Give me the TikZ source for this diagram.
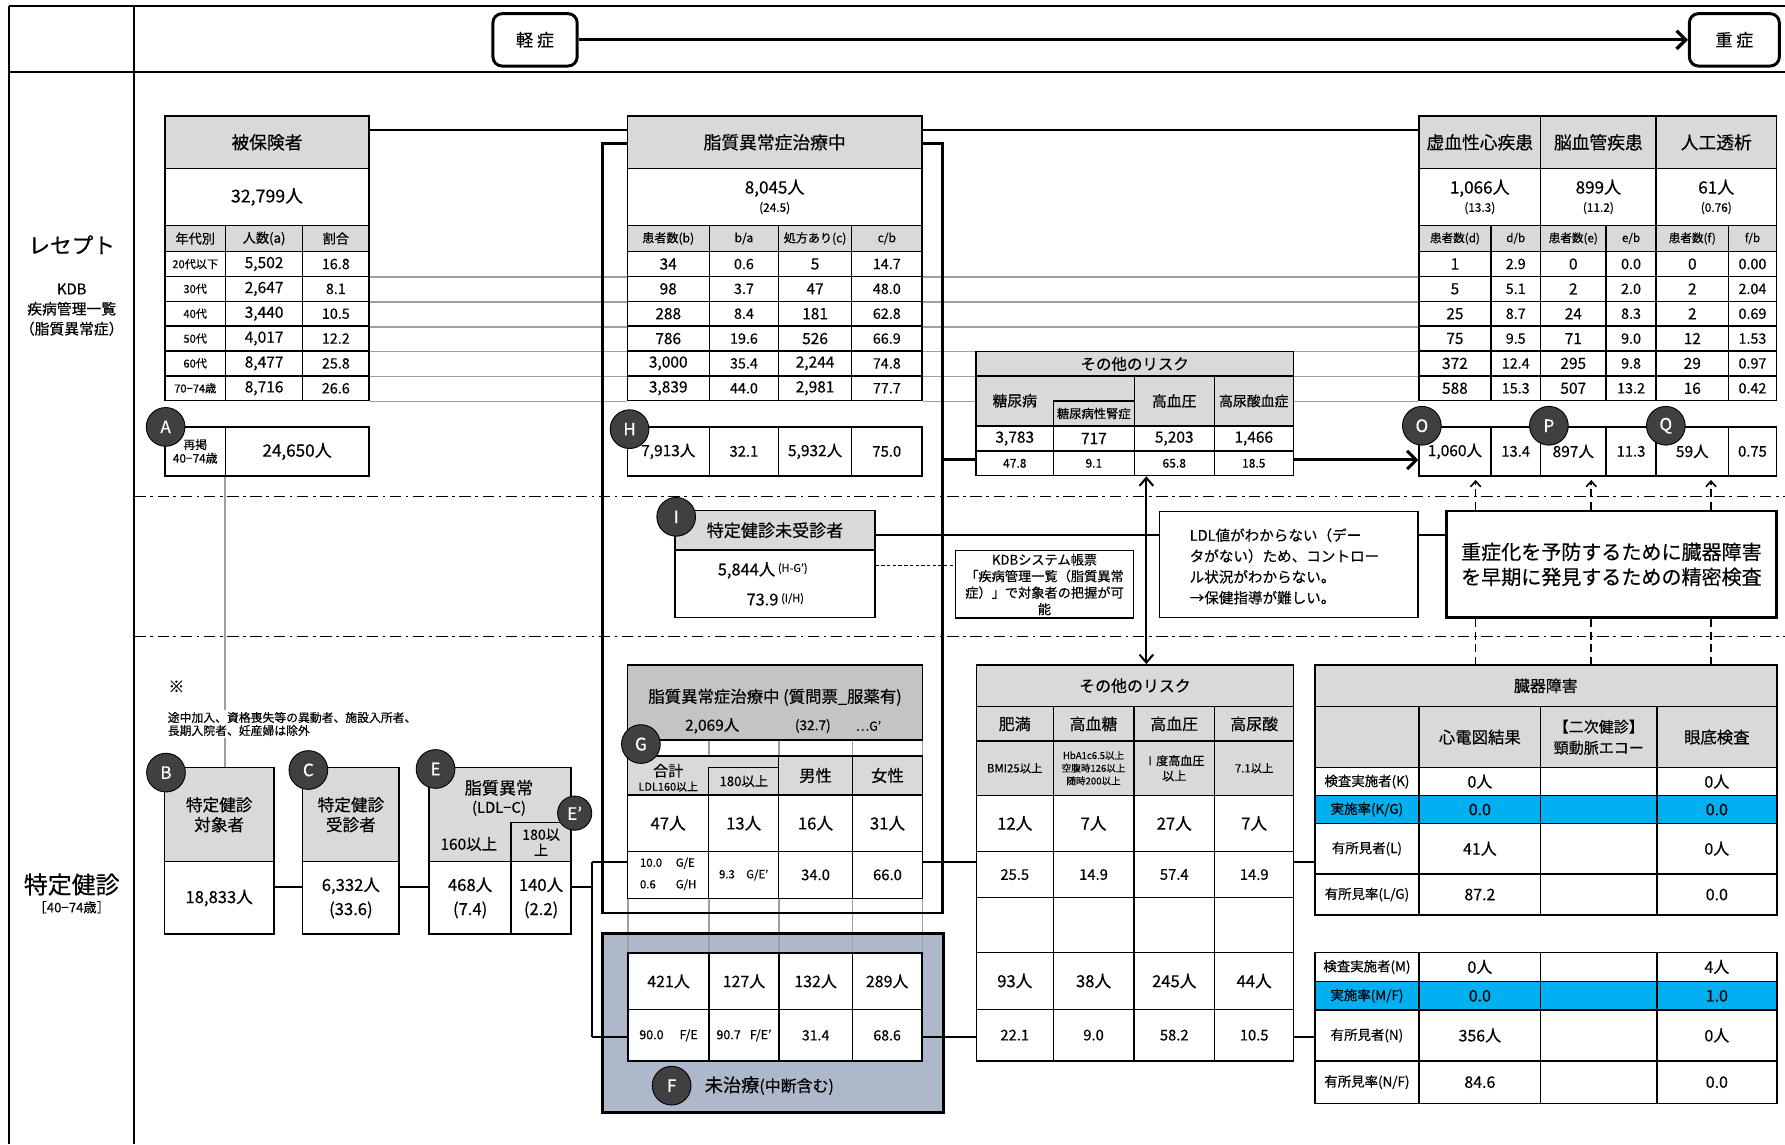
\documentclass[tikz,border=0pt]{standalone}
\usepackage{fontspec}
\setmainfont{Noto Sans CJK JP}[FakeBold=0.35]
\usetikzlibrary{arrows.meta}
\definecolor{hd}{HTML}{D9D9D9}
\definecolor{hdd}{HTML}{C4C4C4}
\definecolor{labc}{HTML}{404040}
\definecolor{fblue}{HTML}{ADB9CA}
\definecolor{kblue}{HTML}{00B0F0}
\definecolor{rowl}{HTML}{A0A0A0}
\newcounter{cc}
\newcommand\fz[2][1.2]{\fontsize{#2pt}{\fpeval{#1*#2}pt}\selectfont}
\NewDocumentCommand\cl{O{}mmmmm}{\stepcounter{cc}%
  \node[cell,minimum width={(#4-#2)*0.5pt},minimum height={(#5-#3)*0.5pt},#1] (c\arabic{cc}) at ({(#2+#4)/2},{(#3+#5)/2}) {#6};}
\pgfdeclarelayer{bg}
\pgfsetlayers{bg,main}
\begin{document}
\begin{tikzpicture}[x=0.5pt,y=-0.5pt,font=\fz{7},
 cell/.style={draw=black,fill=white,line width=0.6pt,inner sep=0.5pt,align=center},
 lab/.style={circle,fill=labc,draw=black,line width=0.4pt,text=white,minimum size=17pt,inner sep=0pt,font=\fz{7.5}},
 sev/.style={draw,rounded corners=4pt,line width=1.3pt,minimum width=37pt,minimum height=23pt,font=\fz{7.5}},
 conn/.style={line width=0.7pt},
 thk/.style={line width=1.3pt},
 dl/.style={line width=0.7pt,dash pattern=on 3.5pt off 2pt}]
\begin{pgfonlayer}{bg}
\fill[white] (0,0) rectangle (1568,1005);
\end{pgfonlayer}
\useasboundingbox (0,0) rectangle (1568,1005);
% frame
\draw[line width=0.8pt] (8,5) -- (1568,5);
\draw[line width=1pt] (8,63) -- (1568,63);
\draw[line width=0.8pt] (8,5) -- (8,1005);
\draw[line width=0.8pt] (118,5) -- (118,1005);
\foreach \yy in {436,559} \draw[line width=0.5pt,dash pattern=on 5pt off 2pt on 1.2pt off 2pt] (118,\yy) -- (1568,\yy);
% header
\node[sev] (mild) at (470,35) {軽 症};
\node[sev,minimum width=39.5pt] (severe) at (1523.5,35) {重 症};
\draw[line width=1.4pt,-{Straight Barb[length=4pt,width=8pt]}] (mild) -- (severe);
% left labels
\node[font=\fz{9.5}] (lrec) at (63,215) {レセプト};
\node[font={\fz[1.35]{6.5}},align=center] (lkdb) at (63,272) {KDB\\疾病管理一覧\\（脂質異常症）};
\node[font=\fz{10.5}] (ltok) at (63,777) {特定健診};
\node[font=\fz{5.8}] (lage) at (63,797) {［40−74歳］};
% ===== table 1
\cl[fill=hd,font=\fz{7.8},alias=hihoT]{145}{102}{324}{148}{被保険者}
\cl[font=\fz{7.8}]{145}{148}{324}{198}{32,799人}
\cl[fill=hd,font=\fz{5.8}]{145}{198}{198}{221}{年代別}
\cl[fill=hd,font=\fz{5.8}]{198}{198}{266}{221}{人数(a)}
\cl[fill=hd,font=\fz{5.8}]{266}{198}{324}{221}{割合}
\foreach \va/\vb/\vc [count=\i] in {20代以下/5{,}502/16.8, 30代/2{,}647/8.1, 40代/3{,}440/10.5, 50代/4{,}017/12.2, 60代/8{,}477/25.8, 70−74歳/8{,}716/26.6}{
 \pgfmathsetmacro\ya{221+(\i-1)*21.833}\pgfmathsetmacro\yb{\ya+21.833}
 \cl[font=\fz{4.9}]{145}{\ya}{198}{\yb}{\va}
 \cl[font=\fz{6.8}]{198}{\ya}{266}{\yb}{\vb}
 \cl[font=\fz{6.3},alias=hr\i]{266}{\ya}{324}{\yb}{\vc}
}
\cl[font={\fz[1.15]{5.2}}]{145}{375}{198}{418}{再掲\\40−74歳}
\cl[font=\fz{7.5},alias=aval]{198}{375}{324}{418}{24,650人}
% ===== table 2
\cl[fill=hd,font=\fz{7.8},alias=lipT]{551}{102}{810}{148}{脂質異常症治療中}
\cl[font={\fz[1.07]{7.5}}]{551}{148}{810}{198}{8,045人\\{\fz{5.2}(24.5)}}
\cl[fill=hd,font=\fz{5.3}]{551}{198}{623}{221}{患者数(b)}
\cl[fill=hd,font=\fz{5.3}]{623}{198}{684}{221}{b/a}
\cl[fill=hd,font=\fz{5.3}]{684}{198}{748}{221}{処方あり(c)}
\cl[fill=hd,font=\fz{5.3}]{748}{198}{810}{221}{c/b}
\foreach \va/\vb/\vc/\vd [count=\i] in {34/0.6/5/14.7, 98/3.7/47/48.0, 288/8.4/181/62.8, 786/19.6/526/66.9, 3{,}000/35.4/2{,}244/74.8, 3{,}839/44.0/2{,}981/77.7}{
 \pgfmathsetmacro\ya{221+(\i-1)*21.833}\pgfmathsetmacro\yb{\ya+21.833}
 \cl[font=\fz{6.8},alias=lr\i]{551}{\ya}{623}{\yb}{\va}
 \cl[font=\fz{6.3}]{623}{\ya}{684}{\yb}{\vb}
 \cl[font=\fz{6.8}]{684}{\ya}{748}{\yb}{\vc}
 \cl[font=\fz{6.3},alias=lc\i]{748}{\ya}{810}{\yb}{\vd}
}
\cl[font=\fz{6.8}]{551}{375}{623}{418}{7,913人}
\cl[font=\fz{6.5}]{623}{375}{684}{418}{32.1}
\cl[font=\fz{6.8}]{684}{375}{748}{418}{5,932人}
\cl[font=\fz{6.5}]{748}{375}{810}{418}{75.0}
% ===== table 3
\cl[fill=hd,font=\fz{7.8},alias=ischT]{1246.5}{102}{1353.3}{148}{虚血性心疾患}
\cl[fill=hd,font=\fz{7.8}]{1353.3}{102}{1454.8}{148}{脳血管疾患}
\cl[fill=hd,font=\fz{7.8}]{1454.8}{102}{1560.5}{148}{人工透析}
\cl[font={\fz[1.07]{7.5}}]{1246.5}{148}{1353.3}{198}{1,066人\\{\fz{5.2}(13.3)}}
\cl[font={\fz[1.07]{7.5}}]{1353.3}{148}{1454.8}{198}{899人\\{\fz{5.2}(11.2)}}
\cl[font={\fz[1.07]{7.5}}]{1454.8}{148}{1560.5}{198}{61人\\{\fz{5.2}(0.76)}}
\cl[fill=hd,font=\fz{5.1}]{1246.5}{198}{1309.6}{221}{患者数(d)}
\cl[fill=hd,font=\fz{5.1}]{1309.6}{198}{1353.3}{221}{d/b}
\cl[fill=hd,font=\fz{5.1}]{1353.3}{198}{1410.7}{221}{患者数(e)}
\cl[fill=hd,font=\fz{5.1}]{1410.7}{198}{1454.8}{221}{e/b}
\cl[fill=hd,font=\fz{5.1}]{1454.8}{198}{1518.3}{221}{患者数(f)}
\cl[fill=hd,font=\fz{5.1}]{1518.3}{198}{1560.5}{221}{f/b}
\foreach \va/\vb/\vc/\vd/\ve/\vf [count=\i] in {1/2.9/0/0.0/0/0.00, 5/5.1/2/2.0/2/2.04, 25/8.7/24/8.3/2/0.69, 75/9.5/71/9.0/12/1.53, 372/12.4/295/9.8/29/0.97, 588/15.3/507/13.2/16/0.42}{
 \pgfmathsetmacro\ya{221+(\i-1)*21.833}\pgfmathsetmacro\yb{\ya+21.833}
 \cl[font=\fz{6.8},alias=ir\i]{1246.5}{\ya}{1309.6}{\yb}{\va}
 \cl[font=\fz{6.3}]{1309.6}{\ya}{1353.3}{\yb}{\vb}
 \cl[font=\fz{6.8}]{1353.3}{\ya}{1410.7}{\yb}{\vc}
 \cl[font=\fz{6.3}]{1410.7}{\ya}{1454.8}{\yb}{\vd}
 \cl[font=\fz{6.8}]{1454.8}{\ya}{1518.3}{\yb}{\ve}
 \cl[font=\fz{6.3}]{1518.3}{\ya}{1560.5}{\yb}{\vf}
}
\cl[font=\fz{6.8},alias=opq1]{1246.5}{375}{1309.6}{418}{1,060人}
\cl[font=\fz{6.5}]{1309.6}{375}{1353.3}{418}{13.4}
\cl[font=\fz{6.8}]{1353.3}{375}{1410.7}{418}{897人}
\cl[font=\fz{6.5}]{1410.7}{375}{1454.8}{418}{11.3}
\cl[font=\fz{6.8}]{1454.8}{375}{1518.3}{418}{59人}
\cl[font=\fz{6.5}]{1518.3}{375}{1560.5}{418}{0.75}
% ===== upper other risk
\cl[fill=hd,font=\fz{6.8},alias=ou]{857.4}{309}{1136}{330.3}{その他のリスク}
\cl[fill=hd]{857.4}{330.3}{996.3}{374.2}{}
\node[font=\fz{6.5}] (tdm) at (891.4,352) {糖尿病};
\cl[fill=hd,font=\fz{5.4}]{925.4}{352.3}{996.3}{374.2}{糖尿病性腎症}
\cl[fill=hd,font=\fz{6.5}]{996.3}{330.3}{1066.7}{374.2}{高血圧}
\cl[fill=hd,font=\fz{6.1}]{1066.7}{330.3}{1136}{374.2}{高尿酸血症}
\cl[font=\fz{6.8}]{857.4}{374.2}{925.4}{396.2}{3,783}
\cl[font=\fz{6.8}]{925.4}{374.2}{996.3}{396.2}{717}
\cl[font=\fz{6.8}]{996.3}{374.2}{1066.7}{396.2}{5,203}
\cl[font=\fz{6.8}]{1066.7}{374.2}{1136}{396.2}{1,466}
\cl[font=\fz{5.3}]{857.4}{396.2}{925.4}{417.8}{47.8}
\cl[font=\fz{5.3},alias=oub]{925.4}{396.2}{996.3}{417.8}{9.1}
\cl[font=\fz{5.3}]{996.3}{396.2}{1066.7}{417.8}{65.8}
\cl[font=\fz{5.3}]{1066.7}{396.2}{1136}{417.8}{18.5}
% ===== I box, KDB, LDL, 重症化
\cl[fill=hd,font=\fz{7.5},alias=tIhead]{593}{448.6}{768.6}{483}{特定健診未受診者}
\cl[alias=tIbody]{593}{483}{768.6}{542.6}{}
\node[font=\fz{7.2}] (i1) at (670,501) {5,844人\,\raisebox{1.5pt}{\fz{4.8}(H-G’)}};
\node[font=\fz{7.2}] (i2) at (681,526.5) {73.9\,\raisebox{1.5pt}{\fz{4.8}(I/H)}};
\cl[font={\fz[1.25]{5.8}},alias=kdb]{839.2}{483.7}{995.8}{543}{KDBシステム帳票\\「疾病管理一覧（脂質異常\\症）」で対象者の把握が可\\能}
\cl[alias=ldl]{1018.6}{449.5}{1245.6}{542.6}{}
\node[font={\fz[1.43]{6.4}},align=left,anchor=west] (ldlt) at (1038,497.5) {LDL値がわからない（デー\\タがない）ため、コントロー\\ル状況がわからない。\\→保健指導が難しい。};
\cl[line width=1.2pt,font={\fz[1.25]{8.8}},alias=jbox]{1270.5}{448.9}{1560.5}{542.6}{重症化を予防するために臓器障害\\を早期に発見するための精密検査}
% ===== note and B C E
\node[font=\fz{7}] (kome) at (155,603) {※};
\node[font={\fz[1.1]{5.2}},align=left,fill=white,inner sep=1pt,anchor=west] (note) at (145,636) {途中加入、資格喪失等の異動者、施設入所者、\\長期入院者、妊産婦は除外};
\cl[fill=hd,font=\fz{7.3},alias=bhead]{144.4}{674.3}{240.7}{757}{特定健診\\対象者}
\cl[font=\fz{7.3},alias=bval]{144.4}{757}{240.7}{820.5}{18,833人}
\cl[fill=hd,font=\fz{7.3}]{266}{674.3}{350.5}{757}{特定健診\\受診者}
\cl[font={\fz[1.45]{7.3}},alias=cval]{266}{757}{350.5}{820.5}{6,332人\\(33.6)}
\cl[fill=hd]{377}{674.3}{501.6}{757}{}
\node[font=\fz{7.5}] (ett) at (438.3,692) {脂質異常};
\node[font=\fz{6.5}] (ett2) at (438.3,710) {(LDL−C)};
\node[font=\fz{6.8}] (e160) at (411.8,741.4) {160以上};
\cl[fill=hd,font={\fz[1.1]{6.2}}]{449}{722.6}{501.6}{757}{180以\\上}
\cl[font={\fz[1.45]{7.3}},alias=evl]{377}{757}{449}{820.5}{468人\\(7.4)}
\cl[font={\fz[1.45]{7.3}},alias=evr]{449}{757}{501.6}{820.5}{140人\\(2.2)}
% ===== G block
\node[draw,fill=hdd,line width=0.6pt,minimum width={(810.4-551.3)*0.5pt},minimum height={(650-584)*0.5pt}] (gT) at (680.85,617) {};
\node[font=\fz{7.2}] (gT1) at (680.85,612.5) {脂質異常症治療中 (質問票\_服薬有)};
\node[font=\fz{6.8}] (gT2) at (625.6,637.7) {2,069人};
\node[font=\fz{6}] (gT3) at (714,637.7) {(32.7)};
\node[font=\fz{5.5}] (gT4) at (763,637.7) {…G’};
\cl[fill=hd]{551.3}{664}{684}{698.4}{}
\node[font=\fz{6.6}] (gsum) at (587,677) {合計};
\node[font=\fz{4.8}] (gldl) at (587,691) {LDL160以上};
\cl[fill=hd,font=\fz{5.8}]{622.6}{674}{684}{698.4}{180以上}
\cl[fill=hd,font=\fz{7.2}]{684}{664}{748.8}{698.4}{男性}
\cl[fill=hd,font=\fz{7.2}]{748.8}{664}{810.4}{698.4}{女性}
\cl[font=\fz{7.3}]{551.3}{698.4}{622.6}{748}{47人}
\cl[font=\fz{7.3}]{622.6}{698.4}{684}{748}{13人}
\cl[font=\fz{7.3}]{684}{698.4}{748.8}{748}{16人}
\cl[font=\fz{7.3}]{748.8}{698.4}{810.4}{748}{31人}
\cl[font=\fz{5},alias=gL]{551.3}{748}{622.6}{789}{\begin{tabular}{@{}l@{\hspace{6pt}}l@{}}10.0&G/E\\[3.5pt]0.6&G/H\end{tabular}}
\cl[font=\fz{5}]{622.6}{748}{684}{789}{9.3\hspace{5pt}G/E’}
\cl[font=\fz{6.5}]{684}{748}{748.8}{789}{34.0}
\cl[font=\fz{6.5},alias=gR]{748.8}{748}{810.4}{789}{66.0}
% ===== F inner table
\cl[font=\fz{7}]{551.7}{837}{622.8}{887}{421人}
\cl[font=\fz{7}]{622.8}{837}{684.3}{887}{127人}
\cl[font=\fz{7}]{684.3}{837}{748.6}{887}{132人}
\cl[font=\fz{7}]{748.6}{837}{810}{887}{289人}
\cl[font=\fz{5.5},alias=fL]{551.7}{887}{622.8}{932}{90.0\hspace{7pt}F/E}
\cl[font=\fz{5.5}]{622.8}{887}{684.3}{932}{90.7\hspace{4pt}F/E’}
\cl[font=\fz{6.2}]{684.3}{887}{748.6}{932}{31.4}
\cl[font=\fz{6.2},alias=fR]{748.6}{887}{810}{932}{68.6}
\node[font=\fz{8},anchor=west] (ftxt) at (612,953.7) {未治療{\fz{7}(中断含む)}};
% ===== lower other risk
\cl[fill=hd,font=\fz{7},alias=ol]{857.6}{584}{1136.4}{620.8}{その他のリスク}
\cl[fill=hd,font=\fz{7}]{857.6}{620.8}{925.2}{651}{肥満}
\cl[fill=hd,font=\fz{7}]{925.2}{620.8}{996}{651}{高血糖}
\cl[fill=hd,font=\fz{7}]{996}{620.8}{1067}{651}{高血圧}
\cl[fill=hd,font=\fz{7}]{1067}{620.8}{1136.4}{651}{高尿酸}
\cl[fill=hd,font=\fz{5}]{857.6}{651}{925.2}{698.6}{BMI25以上}
\cl[fill=hd,font={\fz[1.33]{4.2}}]{925.2}{651}{996}{698.6}{HbA1c6.5以上\\空腹時126以上\\随時200以上}
\cl[fill=hd,font={\fz[1.25]{5.3}}]{996}{651}{1067}{698.6}{Ⅰ度高血圧\\以上}
\cl[fill=hd,font=\fz{5}]{1067}{651}{1136.4}{698.6}{7.1以上}
\foreach \va/\vb/\vc/\vd/\ya/\yb/\vs in {12人/7人/27人/7人/698.6/748/7.3, 25.5/14.9/57.4/14.9/748/788.5/6.5, {}/{}/{}/{}/788.5/836.9/6, 93人/38人/245人/44人/836.9/886.6/7.3, 22.1/9.0/58.2/10.5/886.6/932/6.5}{
 \cl[font=\fz{\vs}]{857.6}{\ya}{925.2}{\yb}{\va}
 \cl[font=\fz{\vs}]{925.2}{\ya}{996}{\yb}{\vb}
 \cl[font=\fz{\vs}]{996}{\ya}{1067}{\yb}{\vc}
 \cl[font=\fz{\vs}]{1067}{\ya}{1136.4}{\yb}{\vd}
}
% ===== organ damage
\cl[fill=hd,font=\fz{7},alias=organ]{1155}{584}{1560.8}{620.8}{臓器障害}
\cl[fill=hd]{1155}{620.8}{1246.5}{674.3}{}
\cl[fill=hd,font=\fz{7.2}]{1246.5}{620.8}{1353.4}{674.3}{心電図結果}
\cl[fill=hd,font={\fz[1.4]{6.6}}]{1353.4}{620.8}{1455.4}{674.3}{【二次健診】\\頸動脈エコー}
\cl[fill=hd,font=\fz{7.2}]{1455.4}{620.8}{1560.8}{674.3}{眼底検査}
\foreach \va/\vb/\vc/\ya/\yb/\fl [count=\i] in {{検査実施者(K)}/0人/0人/674.3/699/white, {実施率(K/G)}/0.0/0.0/699/723.3/kblue, {有所見者(L)}/41人/0人/723.3/767.8/white, {有所見率(L/G)}/87.2/0.0/767.8/803.8/white, {検査実施者(M)}/0人/4人/836.5/862.3/white, {実施率(M/F)}/0.0/1.0/862.3/887.2/kblue, {有所見者(N)}/356人/0人/887.2/932/white, {有所見率(N/F)}/84.6/0.0/932/969.2/white}{
 \cl[fill=\fl,font=\fz{5.9},alias=org\i]{1155}{\ya}{1246.5}{\yb}{\va}
 \cl[fill=\fl,font=\fz{7}]{1246.5}{\ya}{1353.4}{\yb}{\vb}
 \cl[fill=\fl]{1353.4}{\ya}{1455.4}{\yb}{}
 \cl[fill=\fl,font=\fz{7}]{1455.4}{\ya}{1560.8}{\yb}{\vc}
}
% ===== background layer
\begin{pgfonlayer}{bg}
 \node[fill=fblue,minimum width={(828.5-529.8)*0.5pt},minimum height={(977-820.6)*0.5pt},inner sep=0pt] (fblk) at ({(529.8+828.5)/2},{(820.6+977)/2}) {};
 \foreach \xx in {551.5,622.7,684.2,748.7,810.2} \draw[rowl,line width=0.6pt] (\xx,650) -- (\xx,837);
 \draw[thk] (fblk.north west) rectangle (fblk.south east);
 \foreach \i in {1,...,6}{
  \draw[rowl,line width=0.7pt] (hr\i.south east) -- (lr\i.south west);
  \draw[rowl,line width=0.7pt] (lc\i.south east) -- (ir\i.south west);}
 \node[draw,line width=1.3pt,minimum width={(828-529.5)*0.5pt},minimum height={(802-126)*0.5pt},inner sep=0pt] (frame) at ({(529.5+828)/2},{(126+802)/2}) {};
 \draw[rowl,line width=0.7pt] (aval.south west) -- (aval.south west |- bhead.north);
\end{pgfonlayer}
% ===== connectors
\coordinate (yt) at (0,114);
\draw[line width=0.9pt] (hihoT.east |- yt) -- (lipT.west |- yt);
\draw[line width=0.9pt] (lipT.east |- yt) -- (ischT.west |- yt);
\coordinate (y779) at (0,779);
\draw[conn] (bval.east |- y779) -- (cval.west |- y779);
\draw[conn] (cval.east |- y779) -- (evl.west |- y779);
\coordinate (jtop) at (520,757);
\coordinate (jbot) at (520,911);
\draw[conn] (evr.east |- y779) -- (jtop |- y779);
\draw[conn] (jtop) -- (jbot);
\draw[conn] (jtop) -- (gL.west |- jtop);
\draw[conn] (jbot) -- (fL.west |- jbot);
\draw[conn] (gR.east |- jtop) -- (ol.west |- jtop);
\draw[conn] (fR.east |- jbot) -- (ol.west |- jbot);
\draw[conn] (ol.east |- jtop) -- (organ.west |- jtop);
\draw[conn] (ol.east |- jbot) -- (org5.west |- jbot);
\coordinate (y470) at (0,470);
\coordinate (y497) at (0,497);
\draw[line width=0.9pt] (tIhead.east |- y470) -- (ldl.west |- y470);
\draw[line width=0.9pt] (ldl.east |- y470) -- (jbox.west |- y470);
\draw[line width=0.4pt,dash pattern=on 1.5pt off 1pt] (tIbody.east |- y497) -- (kdb.west |- y497);
\coordinate (y404) at (0,404);
\draw[thk] (frame.east |- y404) -- (ou.west |- y404);
\draw[thk,-{Straight Barb[length=4pt,width=8pt]}] (ou.east |- y404) -- (opq1.west |- y404);
\coordinate (xd) at (1007,0);
\draw[line width=0.9pt,{Straight Barb[length=3.5pt,width=6pt]}-{Straight Barb[length=3.5pt,width=6pt]}] (oub.south -| xd) -- (ol.north -| xd);
\foreach \xx in {1296.2,1397.8,1503}{
 \coordinate (dx) at (\xx,0);
 \draw[dl,-{Straight Barb[length=2.5pt,width=4.5pt]},shorten >=1.5pt] (jbox.north -| dx) -- (opq1.south -| dx);
 \draw[dl] (jbox.south -| dx) -- (organ.north -| dx);
}
% ===== circle labels
\node[lab] (labA) at (145.5,375) {A};
\node[lab] (labH) at (553,377) {H};
\node[lab] (labO) at (1249,374) {O};
\node[lab] (labP) at (1360.6,374) {P};
\node[lab] (labQ) at (1463.3,374) {Q};
\node[lab] (labI) at (594,454) {I};
\node[lab] (labB) at (145.8,678.7) {B};
\node[lab] (labC) at (270.9,676.4) {C};
\node[lab] (labE) at (382.6,675.5) {E};
\node[lab,minimum size=15pt] (labE2) at (504.8,714.3) {E’};
\node[lab] (labG) at (563,653.6) {G};
\node[lab] (labF) at (590,953.7) {F};
\end{tikzpicture}
\end{document}
